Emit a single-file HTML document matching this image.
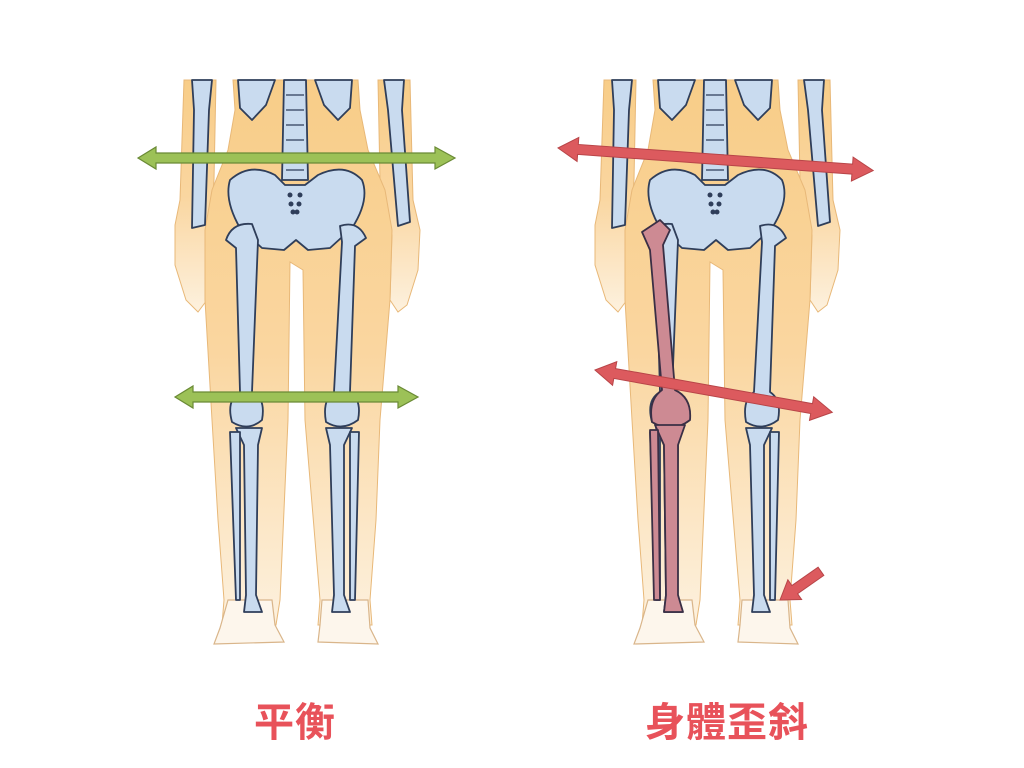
<!DOCTYPE html>
<html><head><meta charset="utf-8"><style>
html,body{margin:0;padding:0;background:#fff;width:1024px;height:768px;overflow:hidden}
.t{position:absolute;top:690px;font-family:"Liberation Sans","Noto Sans CJK TC",sans-serif;font-weight:bold;font-size:40px;color:#e8525a;letter-spacing:1px}
</style></head><body>
<svg width="1024" height="768" viewBox="0 0 1024 768" style="position:absolute;left:0;top:0">
<defs>
<linearGradient id="sk" x1="0" y1="0" x2="0" y2="1">
<stop offset="0" stop-color="#f8cd88"/><stop offset="0.5" stop-color="#fad6a0"/><stop offset="1" stop-color="#fdf1de"/>
</linearGradient>
<g id="body">
<!-- arms -->
<path d="M184 80 L216 80 L214 180 L210 230 L205 235 L207 300 L198 312 L186 300 L175 265 L175 225 L180 200 Z" fill="url(#sk)" stroke="#e8b878" stroke-width="1"/>
<path d="M378 80 L410 80 L413 200 L420 230 L418 270 L407 305 L398 312 L390 300 L392 235 L384 230 L380 180 Z" fill="url(#sk)" stroke="#e8b878" stroke-width="1"/>
<!-- torso + legs -->
<path d="M233 80 L358 80 L360 110 L368 150 L385 190 L392 230 L390 300 L380 420 L376 520 L370 600 L372 625 L318 625 L320 600 L305 420 L303 270 L290 262 L288 420 L280 600 L276 625 L222 625 L224 600 L218 520 L212 420 L205 300 L205 230 L212 190 L228 150 L235 110 Z" fill="url(#sk)" stroke="#e8b878" stroke-width="1"/>
<!-- feet -->
<path d="M228 600 L272 600 L275 625 L284 642 L214 644 L220 628 Z" fill="#fdf6ec" stroke="#d9b58a" stroke-width="1.2"/>
<path d="M322 600 L368 600 L370 628 L378 644 L318 642 L320 625 Z" fill="#fdf6ec" stroke="#d9b58a" stroke-width="1.2"/>
<g fill="#c9dbef" stroke="#2f3e5a" stroke-width="1.8" stroke-linejoin="round">
<!-- arm bones -->
<path d="M192 80 L212 80 L209 110 L205 225 L192 228 L194 110 Z"/>
<path d="M384 80 L404 80 L402 110 L410 222 L398 226 L388 110 Z"/>
<!-- ribs -->
<path d="M238 80 L275 80 L266 105 L252 120 L240 108 Z"/>
<path d="M352 80 L315 80 L324 105 L338 120 L350 108 Z"/>
<!-- spine -->
<path d="M284 80 L306 80 L308 180 L282 180 Z"/>
<!-- pelvis -->
<path d="M230 180 Q250 162 275 175 L285 185 L305 185 L318 175 Q345 162 362 180 Q370 200 352 228 L330 248 L308 250 L296 240 L284 250 L262 248 L240 228 Q224 200 230 180 Z"/>
<!-- femurs -->
<path d="M226 240 Q232 222 252 224 L258 240 L252 392 Q266 398 262 420 Q248 432 232 422 Q226 400 240 392 L236 248 Z"/>
<path d="M340 226 Q358 220 366 238 L355 246 L350 392 Q362 400 358 420 Q342 432 326 422 Q322 400 334 392 L342 242 Z"/>
<!-- tibia/fibula -->
<path d="M236 428 L262 428 L258 445 L256 595 L262 612 L244 612 L246 595 L244 445 Z"/>
<path d="M230 432 L240 432 L240 600 L236 600 Z"/>
<path d="M326 428 L352 428 L344 445 L344 595 L350 612 L332 612 L334 595 L330 445 Z"/>
<path d="M350 432 L359 432 L355 600 L350 600 Z"/>
</g>
<g fill="#2f3e5a"><circle cx="290" cy="195" r="2.5"/><circle cx="300" cy="195" r="2.5"/><circle cx="291" cy="204" r="2.5"/><circle cx="299" cy="204" r="2.5"/><circle cx="293" cy="212" r="2.5"/><circle cx="297" cy="212" r="2.5"/></g>
<g fill="none" stroke="#2f3e5a" stroke-width="1.2"><path d="M286 95 H304 M286 110 H304 M286 125 H304 M286 140 H304 M286 155 H304 M286 170 H304"/></g>
</g>
</defs>
<use href="#body"/>
<use href="#body" transform="translate(420,0)"/>
<!-- red bones on right figure -->
<g fill="#cd8a93" stroke="#3a2f45" stroke-width="1.8" stroke-linejoin="round">
<path d="M642 232 L660 220 L670 230 L663 245 L675 390 Q692 398 690 420 Q672 434 652 422 Q648 400 662 390 L650 250 Z"/>
<path d="M655 425 L685 425 L678 445 L678 595 L683 612 L664 612 L666 595 L664 445 Z"/>
<path d="M650 430 L658 430 L660 600 L654 600 Z"/>
</g>
<!-- green arrows -->
<g fill="#9cc157" stroke="#6a8a35" stroke-width="1.2">
<path d="M138 158 L156 147 L156 153 L435 153 L435 147 L455 158 L435 169 L435 163 L156 163 L156 169 Z"/>
<path d="M175 397 L193 386 L193 392 L398 392 L398 386 L418 397 L398 408 L398 402 L193 402 L193 408 Z"/>
</g>
<!-- red arrows -->
<g fill="#dc5a5e" stroke="#b84548" stroke-width="1">
<path transform="translate(558,148) rotate(4.1)" d="M0 0 L20 -12 L20 -5 L295 -5 L295 -12 L316 0 L295 12 L295 5 L20 5 L20 12 Z"/>
<path transform="translate(595,370) rotate(10.1)" d="M0 0 L20 -12 L20 -5 L220 -5 L220 -12 L241 0 L220 12 L220 5 L20 5 L20 12 Z"/>
<path transform="translate(780,600) rotate(-35)" d="M0 0 L18 -12 L18 -5 L50 -5 L50 5 L18 5 L18 12 Z"/>
</g>
</svg>
<div class="t" style="left:254px">平衡</div>
<div class="t" style="left:645px">身體歪斜</div>
</body></html>
